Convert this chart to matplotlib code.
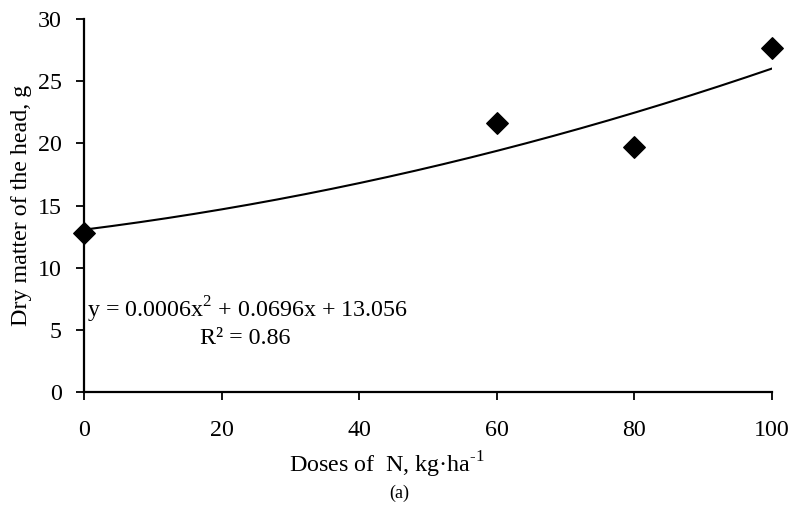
import numpy as np
import matplotlib
matplotlib.use("Agg")
import matplotlib.pyplot as plt

plt.rcParams["font.family"] = ["Liberation Serif", "DejaVu Serif"]
plt.rcParams["mathtext.fontset"] = "custom"
plt.rcParams["mathtext.rm"] = "Liberation Serif"

# Nitrogen doses (kg/ha) and head dry matter (g)
doses = [0, 60, 80, 100]
dry_matter = [12.8, 21.6, 19.7, 27.7]

# Quadratic trend coefficients (a*x^2 + b*x + c)
coef_a = 0.0006
coef_b = 0.0696
coef_c = 13.056
r_squared = 0.86

x_ticks = [0, 20, 40, 60, 80, 100]
y_ticks = [0, 5, 10, 15, 20, 25, 30]

FS = 17.3

fig = plt.figure(figsize=(7.94, 5.14), dpi=100)
ax = fig.add_axes([84 / 794, 1 - 392 / 514, (772 - 84) / 794, (392 - 19) / 514])

xs = np.linspace(0, 100, 300)
ax.plot(xs, coef_a * xs**2 + coef_b * xs + coef_c, color="black", lw=1.5, zorder=2)
ax.scatter(doses, dry_matter, marker="D", s=120, color="black", zorder=3, clip_on=False)

ax.set_xlim(0, 100)
ax.set_ylim(0, 30)
ax.set_xticks(x_ticks)
ax.set_yticks(y_ticks)
for s in ("top", "right"):
    ax.spines[s].set_visible(False)
for s in ("left", "bottom"):
    ax.spines[s].set_linewidth(1.6)
ax.tick_params(axis="both", direction="out", length=6, width=1.3, labelsize=FS)
ax.tick_params(axis="x", pad=14)
ax.tick_params(axis="y", pad=10)

ax.set_xlabel("Doses of  N, kg·ha$^{\\text{-1}}$", fontsize=FS)
ax.xaxis.set_label_coords((387 - 84) / 688, -0.155)
ax.set_ylabel("Dry matter of the head, g", fontsize=FS)
ax.yaxis.set_label_coords(-0.076, 0.5)

ax.text(0.5, 6.6, f"y = {coef_a}x$^2$ + {coef_b}x + {coef_c}", fontsize=FS,
        ha="left", va="center")
ax.text(23.4, 4.27, f"R² = {r_squared}", fontsize=FS, ha="center", va="center")

fig.text(0.503, 1 - 493 / 514, "(a)", fontsize=13, ha="center", va="center")

fig.savefig("out.png", dpi=100)
